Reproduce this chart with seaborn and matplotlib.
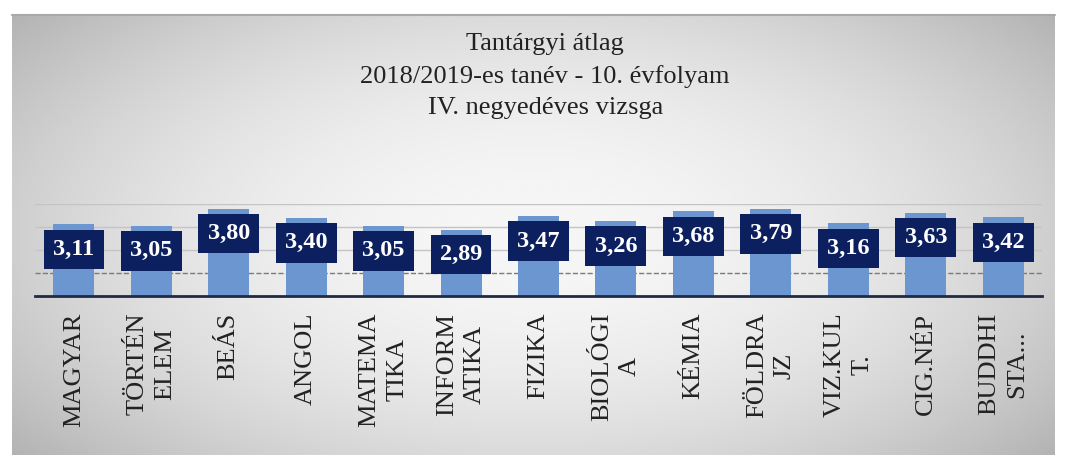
import numpy as np
import pandas as pd
import seaborn as sns
import matplotlib.pyplot as plt

# Chart data
subjects = ["MAGYAR", "TÖRTÉN\nELEM", "BEÁS", "ANGOL", "MATEMA\nTIKA", "INFORM\nATIKA",
            "FIZIKA", "BIOLÓGI\nA", "KÉMIA", "FÖLDRA\nJZ", "VIZ.KUL\nT.", "CIG.NÉP",
            "BUDDHI\nSTA..."]
averages = [3.11, 3.05, 3.80, 3.40, 3.05, 2.89, 3.47, 3.26, 3.68, 3.79, 3.16, 3.63, 3.42]
title_lines = ["Tantárgyi átlag", "2018/2019-es tanév - 10. évfolyam", "IV. negyedéves vizsga"]

df = pd.DataFrame({"tantargy": subjects, "atlag": averages})

sns.set_theme(style="white")
plt.rcParams["font.family"] = ["Liberation Serif", "DejaVu Serif"]

fig = plt.figure(figsize=(10.67, 4.55), dpi=100)
fig.patch.set_facecolor("white")

# Light gray radial gradient panel behind the chart
bg = fig.add_axes([12 / 1067, 0, 1043 / 1067, 440 / 455], zorder=0)
yy, xx = np.mgrid[-1:1:200j, -1:1:400j]
r2 = (xx / 1.05) ** 2 + (yy / 1.25) ** 2
shade = np.clip(0.965 - 0.17 * r2, 0, 1)
bg.imshow(shade, cmap="gray", vmin=0, vmax=1, aspect="auto", interpolation="bicubic")
bg.set_axis_off()
# thin darker frame along the top of the panel
fig.add_artist(plt.Line2D([12 / 1067, 1055 / 1067], [440 / 455, 440 / 455],
                          color="#a8a8a8", linewidth=1.5))

ax = fig.add_axes([35 / 1067, 1 - 296 / 455, 1007 / 1067, 92 / 455], zorder=1)
ax.patch.set_alpha(0)

sns.barplot(data=df, x="tantargy", y="atlag", color="#6b96cf", width=0.53,
            saturation=1, edgecolor="none", ax=ax)

for i, v in enumerate(df["atlag"]):
    ax.annotate(f"{v:.2f}".replace(".", ","), xy=(i, v), xytext=(0, -18),
                textcoords="offset points", ha="center", va="center",
                fontsize=17.5, fontweight="bold", color="white",
                bbox=dict(boxstyle="square,pad=0.38", fc="#0c1f5e", ec="none"))

ax.set_ylim(0, 4)
ax.set_xlim(-0.5, len(subjects) - 0.5)
ax.set_yticks([1, 2, 3, 4])
ax.yaxis.grid(True, color="#c4c4c4", linewidth=1)
ax.get_ygridlines()[0].set_linestyle("--")
ax.get_ygridlines()[0].set_color("#7a7a7a")
ax.set_axisbelow(True)
ax.set_yticklabels([])
ax.tick_params(axis="both", length=0)
ax.tick_params(axis="x", pad=12)
for lbl in ax.get_xticklabels():
    lbl.set_rotation(90)
    lbl.set_fontsize(19)
    lbl.set_linespacing(1.35)
    lbl.set_color("#222222")
ax.set_xlabel("")
ax.set_ylabel("")
for side in ["top", "right", "left"]:
    ax.spines[side].set_visible(False)
ax.spines["bottom"].set_color("#1f2a44")
ax.spines["bottom"].set_linewidth(2)

fig.text(0.511, 1 - 33 / 455, "\n".join(title_lines), ha="center", va="top",
         fontsize=19, linespacing=1.55, color="#222222")

fig.savefig("out.png", dpi=100)
